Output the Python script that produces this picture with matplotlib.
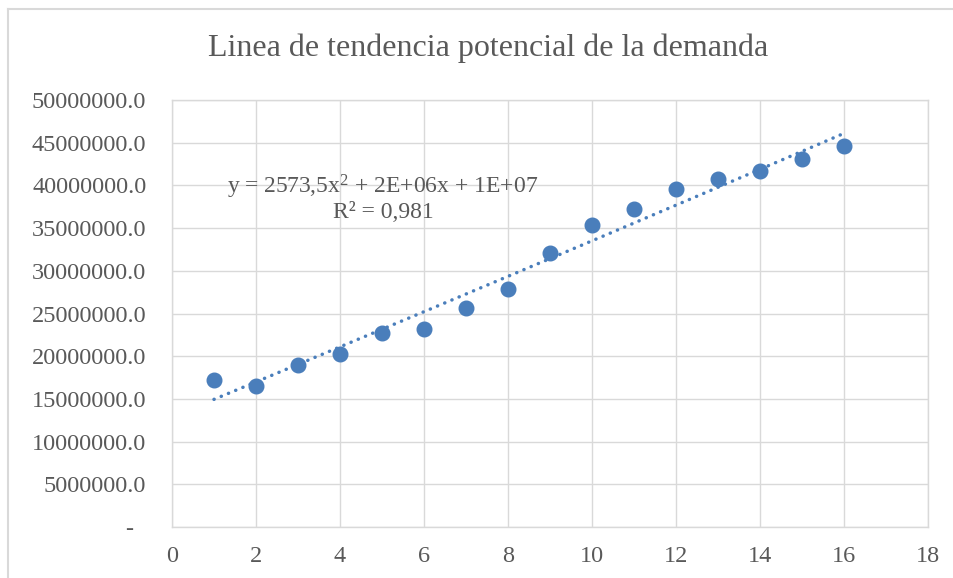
import numpy as np
import matplotlib
matplotlib.use("Agg")
import matplotlib.pyplot as plt
from matplotlib.lines import Line2D

# ---- data ----
periodo = [1, 2, 3, 4, 5, 6, 7, 8, 9, 10, 11, 12, 13, 14, 15, 16]
demanda = [17.2e6, 16.5e6, 19.0e6, 20.3e6, 22.75e6, 23.2e6, 25.7e6, 27.9e6,
           32.1e6, 35.4e6, 37.2e6, 39.6e6, 40.7e6, 41.7e6, 43.1e6, 44.65e6]
x_ticks = [0, 2, 4, 6, 8, 10, 12, 14, 16, 18]
y_ticks = [0, 5e6, 10e6, 15e6, 20e6, 25e6, 30e6, 35e6, 40e6, 45e6, 50e6]
y_labels = ["-  "] + [f"{v:.1f}" for v in y_ticks[1:]]
title = "Linea de tendencia potencial de la demanda"
eq_line1 = r"y = 2573,5x$^{2}$ + 2E+06x + 1E+07"
eq_line2 = "R² = 0,981"

plt.rcParams['font.family'] = ['Liberation Serif', 'DejaVu Serif']
plt.rcParams['mathtext.fontset'] = 'custom'
plt.rcParams['mathtext.rm'] = 'Liberation Serif'
plt.rcParams['mathtext.it'] = 'Liberation Serif'

W, H = 954, 578
fig = plt.figure(figsize=(W / 100, H / 100), dpi=100)
ax = fig.add_axes([172 / W, 1 - 527 / H, (928 - 172) / W, (527 - 100) / H])

grid_c = '#d9d9d9'
text_c = '#595959'
blue = '#4a7ebb'

# trendline (quadratic fit from the data)
coef = np.polyfit(periodo, demanda, 2)
xt = np.linspace(periodo[0], periodo[-1], 200)
ax.plot(xt, np.polyval(coef, xt), color=blue, lw=2.5,
        linestyle=(0, (0.05, 2.2)), dash_capstyle='round', zorder=3)

ax.plot(periodo, demanda, 'o', color=blue, markersize=10.5, zorder=4)

ax.set_xlim(0, 18)
ax.set_ylim(0, 50e6)
ax.set_xticks(x_ticks)
ax.set_xticklabels([str(v) for v in x_ticks])
ax.set_yticks(y_ticks)
ax.set_yticklabels(y_labels)
ax.grid(True, color=grid_c, lw=1.0)
ax.set_axisbelow(True)
for s in ax.spines.values():
    s.set_color(grid_c)
    s.set_linewidth(1.0)
ax.tick_params(length=0, labelsize=17.5, colors=text_c, pad=0)
ax.tick_params(axis='y', pad=18.5)
ax.tick_params(axis='x', pad=14)

fig.text(488 / W, 1 - 48 / H, title, ha='center', va='center',
         fontsize=23, color=text_c)
fig.text(383 / W, 1 - 187 / H, eq_line1, ha='center', va='center',
         fontsize=17, color=text_c)
fig.text(383 / W, 1 - 213 / H, eq_line2, ha='center', va='center',
         fontsize=17, color=text_c)

# chart outer border (left and top visible)
fig.add_artist(Line2D([8.5 / W, 8.5 / W], [0, 1 - 9 / H], transform=fig.transFigure,
                      color=grid_c, lw=1.5))
fig.add_artist(Line2D([8.5 / W, 1], [1 - 9 / H, 1 - 9 / H], transform=fig.transFigure,
                      color=grid_c, lw=1.5))

fig.savefig('out.png', dpi=100, facecolor='white')
